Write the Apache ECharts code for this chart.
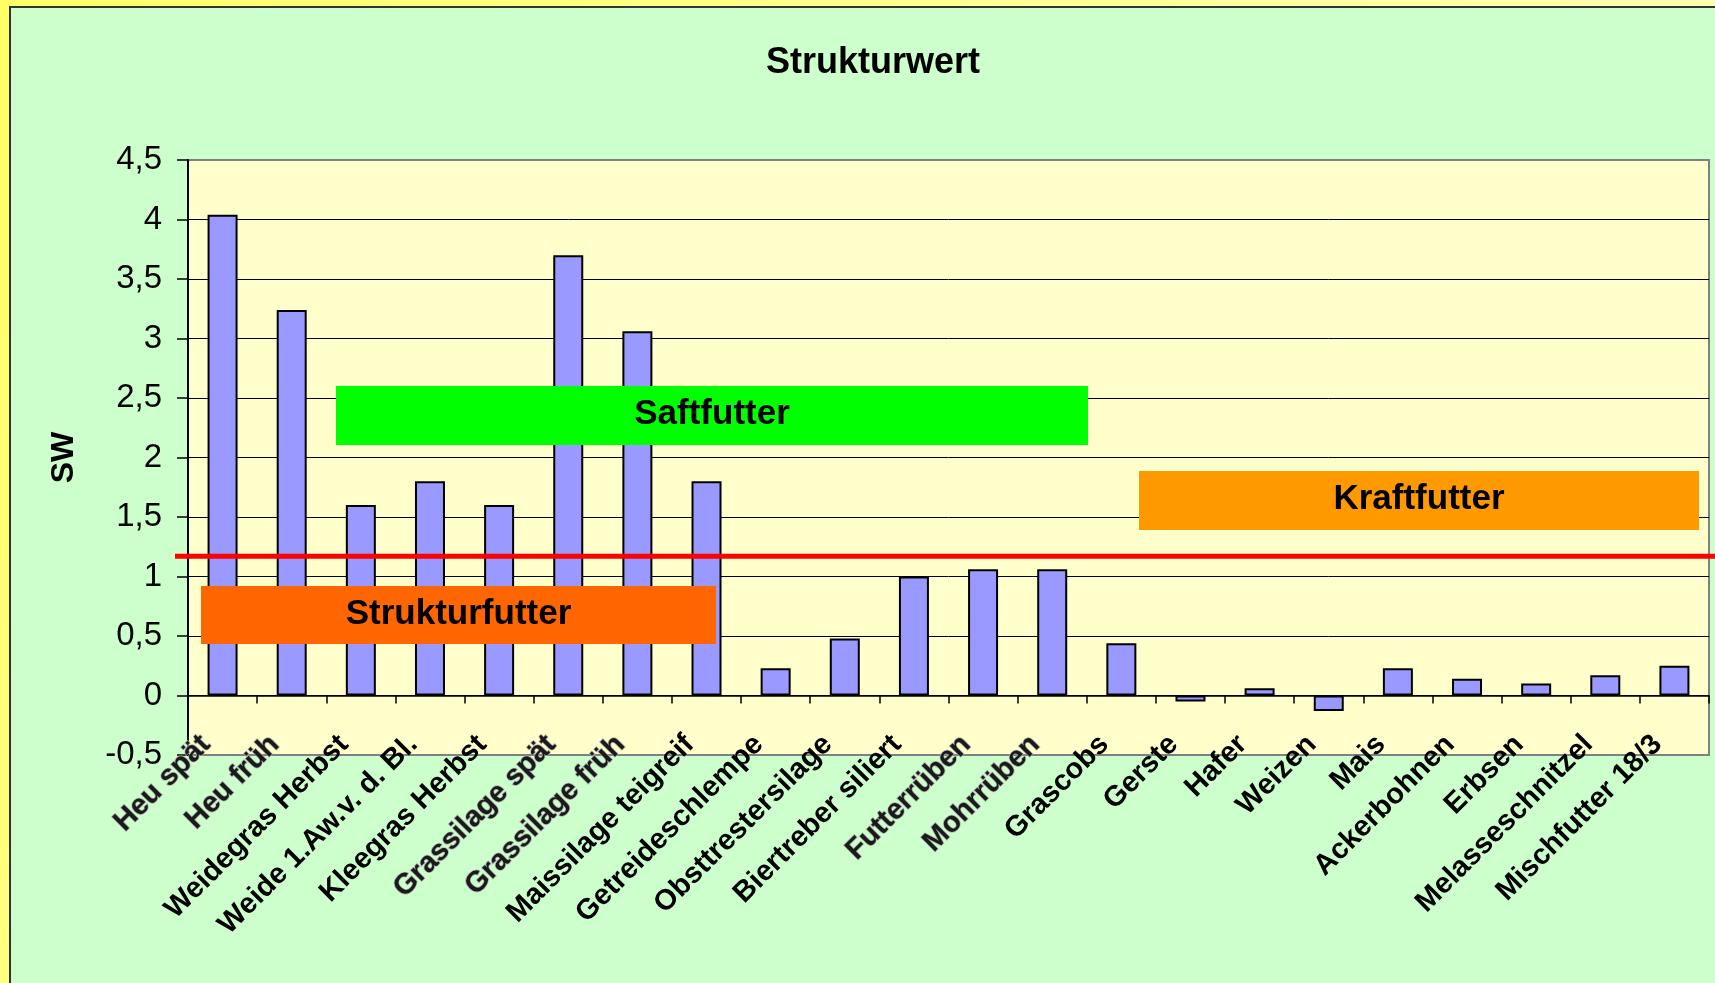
<!DOCTYPE html>
<html>
<head>
<meta charset="utf-8">
<title>Strukturwert</title>
<script src="https://cdn.jsdelivr.net/npm/echarts@6/dist/echarts.min.js"></script>
<style>
  html, body { margin: 0; padding: 0; }
  #chart { width: 1715px; height: 983px; }
</style>
</head>
<body>
<div id="chart"></div>
<script>
// Futtermittel
const categories = ['Heu spät', 'Heu früh', 'Weidegras Herbst', 'Weide 1.Aw.v. d. Bl.', 'Kleegras Herbst',
  'Grassilage spät', 'Grassilage früh', 'Maissilage teigreif', 'Getreideschlempe', 'Obsttrestersilage',
  'Biertreber siliert', 'Futterrüben', 'Mohrrüben', 'Grascobs', 'Gerste', 'Hafer', 'Weizen', 'Mais',
  'Ackerbohnen', 'Erbsen', 'Melasseschnitzel', 'Mischfutter 18/3']
// Strukturwert je Futtermittel
const swValues = [4.04, 3.24, 1.6, 1.8, 1.6, 3.7, 3.06, 1.8, 0.23, 0.48, 1.0, 1.06, 1.06, 0.44,
  -0.05, 0.06, -0.13, 0.23, 0.14, 0.1, 0.17, 0.25]
// Beschriftungen, die im Original "verwaschen" aussehen
const ghostLabels = ['Heu spät', 'Heu früh', 'Grassilage spät', 'Grassilage früh', 'Futterrüben', 'Mohrrüben']
// y-Achse
const yMin = -0.5
const yMax = 4.5
const yStep = 0.5
// Grenzwert (rote Linie)
const grenzwert = 1.17

const FONT = '"Liberation Sans", Arial, sans-serif'

const chart = echarts.init(document.getElementById('chart'))

// Beschriftungskästen
const boxes = [
  { id: 'saft', text: 'Saftfutter', color: '#00ff00', x: 336, y: 386, w: 752, h: 59 },
  { id: 'kraft', text: 'Kraftfutter', color: '#ff9900', x: 1139, y: 471, w: 560, h: 59 },
  { id: 'struktur', text: 'Strukturfutter', color: '#ff6600', x: 201, y: 586, w: 515, h: 58 }
]

function buildGraphics(lineY) {
  const g = [
    {
      id: 'bgOuter', type: 'rect', z: -100, silent: true,
      shape: { x: 0, y: 0, width: 1715, height: 983 },
      style: {
        fill: new echarts.graphic.LinearGradient(0, 0, 1, 1, [
          { offset: 0, color: '#ffff66' },
          { offset: 1, color: '#ffffcc' }
        ])
      }
    },
    {
      id: 'bgInner', type: 'rect', z: -99, silent: true,
      shape: { x: 10, y: 7, width: 1720, height: 990 },
      style: { fill: '#ccffcc', stroke: '#333', lineWidth: 2 }
    }
  ]
  boxes.forEach(b => {
    g.push({
      id: b.id + 'Rect', type: 'rect', z: 100, silent: true,
      shape: { x: b.x, y: b.y, width: b.w, height: b.h },
      style: { fill: b.color }
    })
    g.push({
      id: b.id + 'Text', type: 'text', z: 101, silent: true,
      x: b.x + b.w / 2, y: b.y + b.h / 2 - 1,
      style: {
        text: b.text, align: 'center', verticalAlign: 'middle',
        font: 'bold 35px ' + FONT, fill: '#000'
      }
    })
  })
  if (lineY != null) {
    g.push({
      id: 'grenze', type: 'line', z: 90, silent: true,
      shape: { x1: 175, y1: lineY, x2: 1715, y2: lineY },
      style: { stroke: '#ff0000', lineWidth: 5 }
    })
  }
  return g
}

chart.setOption({
  animation: false,
  backgroundColor: '#ccffcc',
  title: {
    text: 'Strukturwert',
    left: 761,
    top: 40,
    textStyle: { fontFamily: FONT, fontSize: 36, fontWeight: 'bold', color: '#000' }
  },
  grid: {
    left: 188, right: 6, top: 160, bottom: 228,
    outerBoundsMode: 'none',
    show: true,
    backgroundColor: '#ffffcc',
    borderColor: '#808080',
    borderWidth: 2
  },
  xAxis: {
    type: 'category',
    data: categories,
    axisLine: { onZero: true, lineStyle: { color: '#000', width: 1.5 } },
    axisTick: { show: true, length: 8, lineStyle: { color: '#000', width: 1.5 } },
    axisLabel: {
      interval: 0,
      rotate: 45,
      margin: -32,
      padding: [0, 24, 0, 0],
      fontFamily: FONT,
      fontSize: 29,
      fontWeight: 'bold',
      color: '#000',
      formatter: v => ghostLabels.includes(v) ? '{g|' + v + '}' : v,
      rich: {
        g: {
          fontFamily: FONT, fontSize: 29, fontWeight: 'bold', color: '#1a1a1a',
          textBorderColor: 'rgba(170,170,170,0.9)', textBorderWidth: 1.5
        }
      }
    },
    splitLine: { show: false }
  },
  yAxis: {
    type: 'value',
    min: yMin,
    max: yMax,
    interval: yStep,
    name: 'SW',
    nameLocation: 'middle',
    nameGap: 108,
    nameTextStyle: { fontFamily: FONT, fontSize: 32, fontWeight: 'bold', color: '#000' },
    axisLine: { show: true, lineStyle: { color: '#000', width: 2 } },
    axisTick: { show: true, inside: false, length: 11, lineStyle: { color: '#000', width: 1.5 } },
    axisLabel: {
      margin: 26,
      fontFamily: FONT,
      fontSize: 33,
      color: '#000',
      formatter: v => String(Math.round(v * 10) / 10).replace('.', ',')
    },
    splitLine: { show: true, showMinLine: false, showMaxLine: false, lineStyle: { color: '#000', width: 1 } }
  },
  series: [
    {
      type: 'bar',
      data: swValues,
      barWidth: 30,
      itemStyle: { color: '#9999ff', borderColor: '#000', borderWidth: 2 },
      z: 5
    }
  ],
  graphic: buildGraphics(null)
})

const lineY = chart.convertToPixel({ yAxisIndex: 0 }, grenzwert)
chart.setOption({ graphic: buildGraphics(lineY) })
</script>
</body>
</html>
